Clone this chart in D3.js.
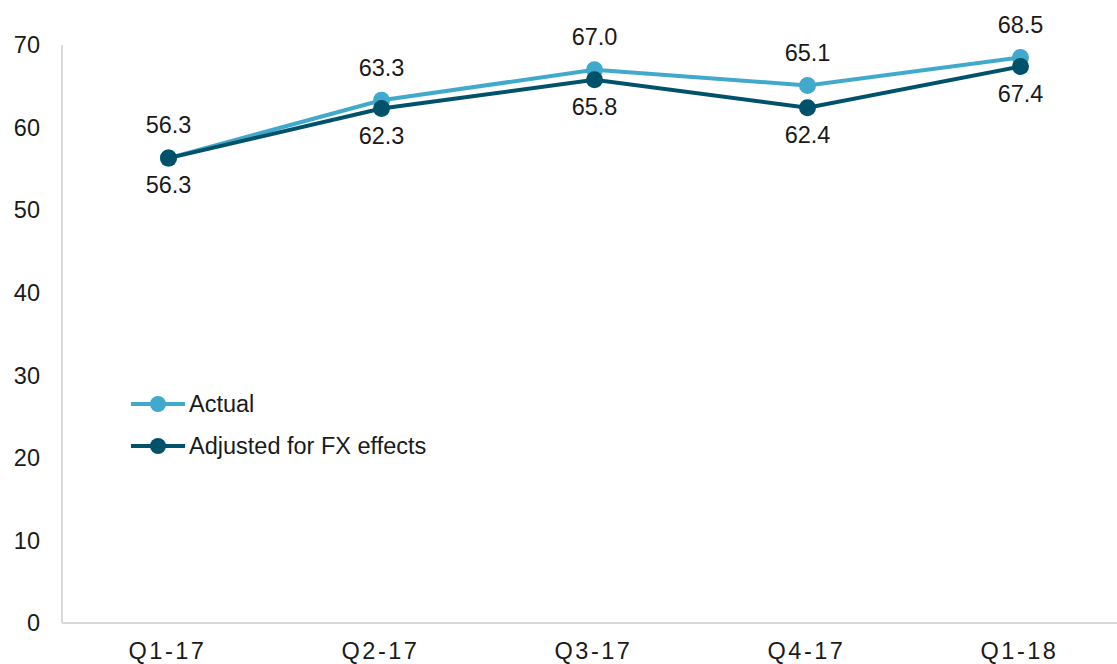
<!DOCTYPE html>
<html>
<head>
<meta charset="utf-8">
<script src="https://cdn.jsdelivr.net/npm/d3@7"></script>
<style>
  body { margin: 0; background: #fff; }
  svg text { font-family: "Liberation Sans", Arial, sans-serif; fill: #1a1a1a; }
</style>
</head>
<body>
<svg id="svg" width="1117" height="664"></svg>
<script>
var quarters = ['Q1-17', 'Q2-17', 'Q3-17', 'Q4-17', 'Q1-18'];
var actual = [56.3, 63.3, 67.0, 65.1, 68.5];
var adjusted = [56.3, 62.3, 65.8, 62.4, 67.4];
var yTicks = [0, 10, 20, 30, 40, 50, 60, 70];
var seriesNames = ['Actual', 'Adjusted for FX effects'];

var svg = d3.select('#svg');
var margin = { top: 45, right: -10, bottom: 41, left: 62 };
var width = 1117, height = 664;
var fontSize = '23.5px';

var x = d3.scalePoint()
    .domain(quarters)
    .range([margin.left, width - margin.right])
    .padding(0.5);
var y = d3.scaleLinear()
    .domain([0, 70])
    .range([height - margin.bottom, margin.top]);

var axisColor = '#d9d9d9';
var colors = ['#41a9cb', '#00526b'];

// axes lines
svg.append('line')
    .attr('x1', margin.left).attr('x2', margin.left)
    .attr('y1', y(70)).attr('y2', y(0))
    .attr('stroke', axisColor).attr('stroke-width', 2);
svg.append('line')
    .attr('x1', margin.left).attr('x2', width)
    .attr('y1', y(0)).attr('y2', y(0))
    .attr('stroke', axisColor).attr('stroke-width', 2);

// y tick labels
svg.selectAll('.ytick')
    .data(yTicks)
    .enter().append('text')
    .attr('x', 40)
    .attr('y', function(d) { return y(d); })
    .attr('dy', '0.35em')
    .attr('text-anchor', 'end')
    .style('font-size', fontSize)
    .text(function(d) { return d; });

// x tick labels
svg.selectAll('.xtick')
    .data(quarters)
    .enter().append('text')
    .attr('x', function(d) { return x(d) - 1; })
    .attr('y', 659)
    .attr('text-anchor', 'middle')
    .style('font-size', fontSize)
    .style('letter-spacing', '2.5px')
    .text(function(d) { return d; });

var line = d3.line()
    .x(function(d, i) { return x(quarters[i]); })
    .y(function(d) { return y(d); });

var series = [actual, adjusted];
series.forEach(function(vals, s) {
    svg.append('path')
        .datum(vals)
        .attr('d', line)
        .attr('fill', 'none')
        .attr('stroke', colors[s])
        .attr('stroke-width', 4);
    svg.selectAll('.pt' + s)
        .data(vals)
        .enter().append('circle')
        .attr('cx', function(d, i) { return x(quarters[i]); })
        .attr('cy', function(d) { return y(d); })
        .attr('r', 8.5)
        .attr('fill', colors[s]);
});

// data labels
svg.selectAll('.lblA')
    .data(actual)
    .enter().append('text')
    .attr('x', function(d, i) { return x(quarters[i]); })
    .attr('y', function(d) { return y(d) - 33; })
    .attr('dy', '0.35em')
    .attr('text-anchor', 'middle')
    .style('font-size', fontSize)
    .text(function(d) { return d.toFixed(1); });
svg.selectAll('.lblB')
    .data(adjusted)
    .enter().append('text')
    .attr('x', function(d, i) { return x(quarters[i]); })
    .attr('y', function(d) { return y(d) + 27; })
    .attr('dy', '0.35em')
    .attr('text-anchor', 'middle')
    .style('font-size', fontSize)
    .text(function(d) { return d.toFixed(1); });

// legend
var legend = svg.append('g').attr('transform', 'translate(131,404)');
seriesNames.forEach(function(name, s) {
    var g = legend.append('g').attr('transform', 'translate(0,' + (s * 42) + ')');
    g.append('line')
        .attr('x1', 0).attr('x2', 54)
        .attr('stroke', colors[s]).attr('stroke-width', 4);
    g.append('circle')
        .attr('cx', 27).attr('r', 8)
        .attr('fill', colors[s]);
    g.append('text')
        .attr('x', 58)
        .attr('dy', '0.35em')
        .style('font-size', fontSize)
        .text(name);
});
</script>
</body>
</html>
